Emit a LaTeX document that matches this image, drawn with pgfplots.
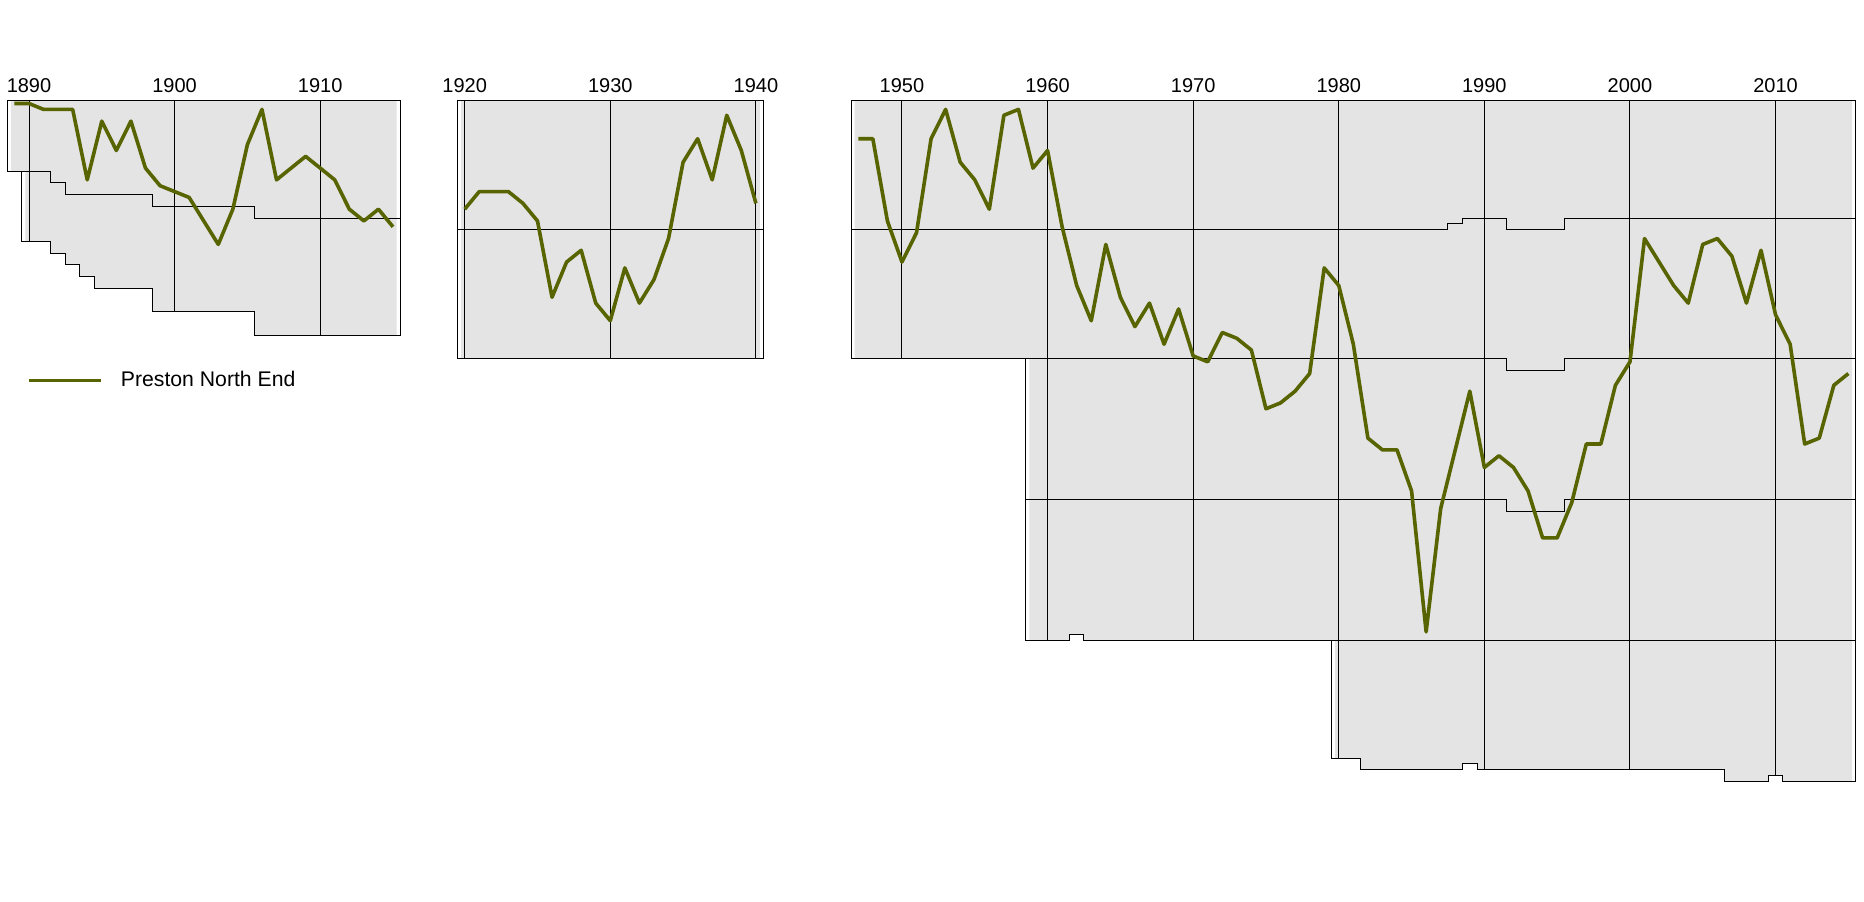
\documentclass[border=0pt]{standalone}
\usepackage{fontspec}
\setmainfont{Liberation Sans}
\usepackage{pgfplots}
\pgfplotsset{compat=1.18}
\definecolor{pne}{RGB}{88,100,0}
\definecolor{bg}{RGB}{228,228,228}
\pgfplotsset{
  panel/.style={
    anchor=north west, x=7.28pt, y=2.935pt, y dir=reverse,
    axis x line*=top, axis y line=none,
    x axis line style={draw=none},
    major tick length=0pt, ytick=\empty,
    xticklabel style={font=\fontsize{10}{12}\selectfont, inner sep=0pt, yshift=4pt},
    clip=false, no markers,
    /pgf/number format/assume math mode=true,
  },
  bgfill/.style={fill=bg, draw=none, forget plot},
  frame/.style={black, line width=0.5pt, forget plot},
  pneline/.style={pne, line width=1.8pt, line join=round},
}
\begin{document}
\begin{tikzpicture}
\path[use as bounding box] (0,0) rectangle (932pt,450.5pt);
% ---------------- Panel 1: 1888-89 to 1914-15
\begin{axis}[panel, at={(3.58pt,400.2pt)},
  xmin=1888.5, xmax=1915.5, ymin=0.5, ymax=40.5,
  xtick={1890,1900,1910}, xticklabels={1890,1900,1910},
  legend style={draw=none, fill=none, at={(axis cs:1889.82,48.2)}, anchor=west,
    font=\fontsize{10.6}{12}\selectfont, inner sep=0pt, column sep=7.1pt},
  legend image code/.code={\draw[#1] (0pt,0pt) -- (36.2pt,0pt);},
]
\addplot[bgfill] coordinates {(1888.75,0.5) (1915.25,0.5) (1915.25,40.5) (1905.5,40.5) (1905.5,36.5) (1898.5,36.5) (1898.5,32.5) (1894.5,32.5) (1894.5,30.5) (1893.5,30.5) (1893.5,28.5) (1892.5,28.5) (1892.5,26.5) (1891.5,26.5) (1891.5,24.5) (1889.75,24.5) (1889.75,12.5) (1888.75,12.5)};
\addplot[frame] coordinates {(1888.5,12.5) (1891.5,12.5) (1891.5,14.5) (1892.5,14.5) (1892.5,16.5) (1898.5,16.5) (1898.5,18.5) (1905.5,18.5) (1905.5,20.5) (1915.5,20.5)};
\addplot[frame] coordinates {(1890,0.5) (1890,24.5)};
\addplot[frame] coordinates {(1900,0.5) (1900,36.5)};
\addplot[frame] coordinates {(1910,0.5) (1910,40.5)};
\addplot[frame] coordinates {(1888.5,0.5) (1915.5,0.5) (1915.5,40.5) (1905.5,40.5) (1905.5,36.5) (1898.5,36.5) (1898.5,32.5) (1894.5,32.5) (1894.5,30.5) (1893.5,30.5) (1893.5,28.5) (1892.5,28.5) (1892.5,26.5) (1891.5,26.5) (1891.5,24.5) (1889.5,24.5) (1889.5,12.5) (1888.5,12.5) (1888.5,0.5)} -- cycle;
\addplot[pneline] coordinates {
(1889,1) (1890,1) (1891,2) (1892,2) (1893,2) (1894,14) (1895,4) (1896,9) (1897,4) (1898,12)
(1899,15) (1900,16) (1901,17) (1902,21) (1903,25) (1904,19) (1905,8) (1906,2) (1907,14) (1908,12)
(1909,10) (1910,12) (1911,14) (1912,19) (1913,21) (1914,19) (1915,22)};
\addlegendentry{Preston North End}
\end{axis}
% ---------------- Panel 2: 1919-20 to 1939-40
\begin{axis}[panel, at={(228.7pt,400.2pt)},
  xmin=1919.5, xmax=1940.5, ymin=0.5, ymax=44.5,
  xtick={1920,1930,1940}, xticklabels={1920,1930,1940},
]
\addplot[bgfill] coordinates {(1919.75,0.5) (1940.25,0.5) (1940.25,44.5) (1919.75,44.5)};
\addplot[frame] coordinates {(1919.5,22.5) (1940.5,22.5)};
\addplot[frame] coordinates {(1920,0.5) (1920,44.5)};
\addplot[frame] coordinates {(1930,0.5) (1930,44.5)};
\addplot[frame] coordinates {(1940,0.5) (1940,44.5)};
\addplot[frame] coordinates {(1919.5,0.5) (1940.5,0.5) (1940.5,44.5) (1919.5,44.5) (1919.5,0.5)} -- cycle;
\addplot[pneline] coordinates {
(1920,19) (1921,16) (1922,16) (1923,16) (1924,18) (1925,21) (1926,34) (1927,28) (1928,26) (1929,35)
(1930,38) (1931,29) (1932,35) (1933,31) (1934,24) (1935,11) (1936,7) (1937,14) (1938,3) (1939,9) (1940,18)};
\end{axis}
% ---------------- Panel 3: 1946-47 to 2014-15
\begin{axis}[panel, at={(425.5pt,400.2pt)},
  xmin=1946.5, xmax=2015.5, ymin=0.5, ymax=116.5,
  xtick={1950,1960,1970,1980,1990,2000,2010},
  xticklabels={1950,1960,1970,1980,1990,2000,2010},
]
\addplot[bgfill] coordinates {(1946.75,0.5) (2015.25,0.5) (2015.25,116.5) (2010.5,116.5) (2010.5,115.5) (2009.5,115.5) (2009.5,116.5) (2006.5,116.5) (2006.5,114.5) (1989.5,114.5) (1989.5,113.5) (1988.5,113.5) (1988.5,114.5) (1981.5,114.5) (1981.5,112.5) (1979.75,112.5) (1979.75,92.5) (1962.5,92.5) (1962.5,91.5) (1961.5,91.5) (1961.5,92.5) (1958.75,92.5) (1958.75,44.5) (1946.75,44.5)};
\addplot[frame] coordinates {(1946.5,22.5) (1987.5,22.5) (1987.5,21.5) (1988.5,21.5) (1988.5,20.5) (1991.5,20.5) (1991.5,22.5) (1995.5,22.5) (1995.5,20.5) (2015.5,20.5)};
\addplot[frame] coordinates {(1958.5,44.5) (1991.5,44.5) (1991.5,46.5) (1995.5,46.5) (1995.5,44.5) (2015.5,44.5)};
\addplot[frame] coordinates {(1958.5,68.5) (1991.5,68.5) (1991.5,70.5) (1995.5,70.5) (1995.5,68.5) (2015.5,68.5)};
\addplot[frame] coordinates {(1979.5,92.5) (2015.5,92.5)};
\addplot[frame] coordinates {(1950,0.5) (1950,44.5)};
\addplot[frame] coordinates {(1960,0.5) (1960,92.5)};
\addplot[frame] coordinates {(1970,0.5) (1970,92.5)};
\addplot[frame] coordinates {(1980,0.5) (1980,112.5)};
\addplot[frame] coordinates {(1990,0.5) (1990,114.5)};
\addplot[frame] coordinates {(2000,0.5) (2000,114.5)};
\addplot[frame] coordinates {(2010,0.5) (2010,115.5)};
\addplot[frame] coordinates {(1946.5,0.5) (2015.5,0.5) (2015.5,116.5) (2010.5,116.5) (2010.5,115.5) (2009.5,115.5) (2009.5,116.5) (2006.5,116.5) (2006.5,114.5) (1989.5,114.5) (1989.5,113.5) (1988.5,113.5) (1988.5,114.5) (1981.5,114.5) (1981.5,112.5) (1979.5,112.5) (1979.5,92.5) (1962.5,92.5) (1962.5,91.5) (1961.5,91.5) (1961.5,92.5) (1958.5,92.5) (1958.5,44.5) (1946.5,44.5) (1946.5,0.5)} -- cycle;
\addplot[pneline] coordinates {
(1947,7) (1948,7) (1949,21) (1950,28) (1951,23) (1952,7) (1953,2) (1954,11) (1955,14) (1956,19)
(1957,3) (1958,2) (1959,12) (1960,9) (1961,22) (1962,32) (1963,38) (1964,25) (1965,34) (1966,39)
(1967,35) (1968,42) (1969,36) (1970,44) (1971,45) (1972,40) (1973,41) (1974,43) (1975,53) (1976,52)
(1977,50) (1978,47) (1979,29) (1980,32) (1981,42) (1982,58) (1983,60) (1984,60) (1985,67) (1986,91)
(1987,70) (1988,60) (1989,50) (1990,63) (1991,61) (1992,63) (1993,67) (1994,75) (1995,75) (1996,69)
(1997,59) (1998,59) (1999,49) (2000,45) (2001,24) (2002,28) (2003,32) (2004,35) (2005,25) (2006,24)
(2007,27) (2008,35) (2009,26) (2010,37) (2011,42) (2012,59) (2013,58) (2014,49) (2015,47)};
\end{axis}
\end{tikzpicture}
\end{document}
